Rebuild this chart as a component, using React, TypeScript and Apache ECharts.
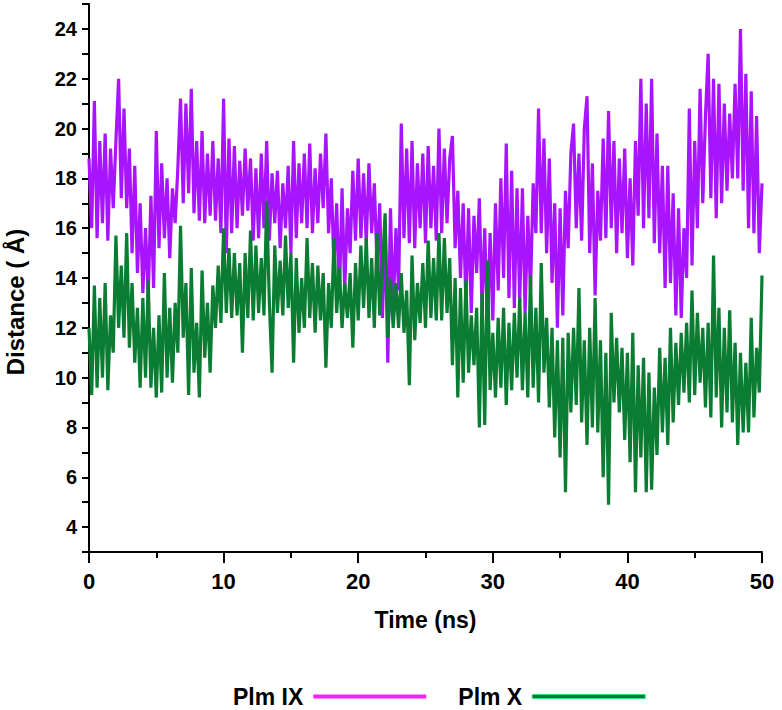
import React, { useEffect, useRef } from "react";
import * as echarts from "echarts";

// Sampling step of the trajectory (ns)
const TIME_STEP_NS = 0.2;

// Plm IX distance (Å), one value every 0.2 ns from 0 to 50 ns
const PLM_IX = [
  18.8, 16.0, 21.1, 15.6, 19.5,
  16.2, 19.8, 15.5, 19.2, 16.8,
  19.5, 22.0, 17.2, 20.8, 16.8,
  19.2, 15.0, 18.5, 14.2, 17.0,
  13.4, 16.0, 13.2, 17.3, 13.6,
  19.9, 15.2, 18.6, 15.6, 18.0,
  14.8, 17.6, 16.2, 18.4, 21.2,
  17.0, 21.0, 17.4, 21.6, 16.6,
  19.5, 16.3, 19.9, 16.2, 19.0,
  16.5, 19.5, 16.3, 18.8, 15.8,
  21.2, 15.0, 19.6, 15.8, 19.3,
  16.0, 18.7, 16.5, 19.2, 16.7,
  18.8, 15.5, 18.4, 15.6, 19.0,
  16.0, 19.5, 15.5, 18.2, 16.2,
  18.3, 15.2, 17.8, 16.0, 18.5,
  15.0, 19.5, 15.6, 18.6, 16.2,
  19.0, 16.0, 19.4, 15.8, 18.4,
  16.2, 19.0, 16.8, 19.8, 15.8,
  18.0, 14.4, 17.0, 13.2, 17.6,
  13.5, 16.8, 15.0, 18.3, 15.5,
  18.8, 15.6, 18.2, 15.4, 18.6,
  15.8, 17.8, 14.5, 17.0, 12.4,
  16.2, 10.6, 16.8, 12.6, 16.0,
  13.5, 20.2, 15.6, 19.2, 15.4,
  19.5, 15.2, 18.6, 16.0, 19.0,
  15.4, 19.3, 16.0, 18.5, 15.5,
  20.0, 15.8, 19.2, 16.2, 18.8,
  19.7, 15.2, 17.5, 14.0, 17.0,
  13.0, 16.8, 12.6, 16.5, 14.2,
  17.2, 12.8, 16.0, 12.1, 15.8,
  12.3, 17.0, 13.5, 18.0, 14.0,
  19.4, 13.2, 18.3, 12.8, 17.6,
  13.0, 17.6, 12.6, 16.5, 13.5,
  17.8, 15.8, 20.8, 15.8, 19.6,
  15.0, 18.8, 13.8, 17.0, 12.0,
  16.8, 12.5, 17.5, 15.2, 19.0,
  20.2, 16.0, 19.0, 15.5, 20.0,
  21.3, 15.0, 18.6, 13.3, 17.5,
  15.5, 19.6, 15.6, 20.7, 16.0,
  19.5, 15.0, 18.8, 15.8, 19.2,
  14.8, 18.0, 14.5, 19.5, 16.5,
  22.0, 16.0, 21.0, 16.4, 22.0,
  15.4, 19.8, 15.0, 18.5, 13.6,
  18.5, 13.8, 17.4, 12.5, 16.8,
  12.4, 16.0, 14.0, 20.8, 14.5,
  19.5, 16.0, 21.6, 17.0, 20.5,
  23.0, 17.2, 22.0, 16.4, 21.8,
  17.0, 21.0, 17.5, 20.6, 18.0,
  21.8, 18.0, 24.0, 17.5, 22.2,
  16.0, 21.5, 15.8, 20.5, 15.0,
  17.8,
];

// Plm X distance (Å), one value every 0.2 ns from 0 to 50 ns
const PLM_X = [
  12.0, 9.3, 13.7, 9.6, 13.2,
  10.0, 13.8, 9.5, 12.5, 11.0,
  15.7, 12.0, 14.5, 11.6, 15.8,
  11.2, 13.8, 10.6, 12.8, 9.6,
  13.2, 10.0, 13.9, 9.6, 12.0,
  9.2, 12.5, 9.4, 14.2, 10.0,
  12.8, 9.8, 13.0, 11.0, 16.1,
  11.6, 13.8, 9.3, 14.4, 10.2,
  12.2, 9.2, 14.3, 10.8, 13.0,
  10.2, 13.7, 12.0, 14.5, 12.2,
  16.0, 12.6, 15.2, 12.4, 15.0,
  12.5, 14.6, 11.0, 15.0, 12.4,
  15.9, 12.3, 15.3, 12.6, 14.8,
  12.5, 17.1, 13.0, 10.2, 15.3,
  12.6, 14.7, 12.5, 15.7, 12.8,
  15.0, 10.6, 14.8, 11.8, 14.0,
  12.0, 15.6, 12.4, 14.6, 11.8,
  14.5, 12.3, 14.2, 10.4, 13.8,
  12.0, 15.6, 12.6, 14.4, 12.0,
  13.8, 12.4, 14.2, 11.2, 14.6,
  12.3, 15.3, 12.8, 15.6, 12.4,
  14.8, 12.0, 15.8, 12.5, 14.5,
  16.6, 11.6, 14.0, 12.0, 13.8,
  12.0, 14.2, 11.8, 13.5, 9.7,
  14.9, 11.5, 13.8, 12.2, 14.6,
  12.0, 15.5, 12.4, 14.8, 12.3,
  15.8, 12.3, 15.6, 12.6, 14.8,
  10.5, 14.0, 9.2, 13.6, 9.8,
  13.9, 10.2, 12.5, 10.5, 12.8,
  8.0, 13.4, 8.1, 14.7, 9.5,
  11.8, 9.2, 12.4, 9.6, 12.8,
  8.9, 12.2, 9.5, 12.6, 10.0,
  13.2, 9.5, 12.6, 9.2, 14.1,
  9.6, 12.8, 9.0, 14.6, 10.2,
  12.4, 8.8, 12.0, 7.6, 11.5,
  6.8, 11.6, 5.4, 11.8, 8.6,
  12.0, 8.9, 13.6, 8.2, 11.5,
  7.3, 12.0, 8.0, 13.2, 7.8,
  11.5, 6.0, 11.0, 4.9, 12.6,
  9.0, 11.6, 8.6, 11.2, 7.5,
  11.0, 6.6, 11.8, 5.4, 10.5,
  6.8, 10.8, 5.4, 10.2, 5.5,
  9.6, 6.9, 11.2, 7.8, 10.8,
  7.3, 12.0, 8.2, 11.4, 8.9,
  11.8, 9.4, 12.2, 9.0, 13.5,
  9.3, 12.6, 9.8, 12.0, 8.8,
  12.2, 8.4, 14.9, 9.2, 12.8,
  8.0, 12.0, 8.6, 12.7, 8.2,
  11.4, 7.3, 11.0, 7.8, 10.6,
  7.8, 12.4, 8.4, 11.2, 9.4,
  14.1,
];

const SERIES_NAMES = ["Plm IX", "Plm X"];
const X_TICK_LABELS = [0, 10, 20, 30, 40, 50];
const Y_TICK_LABELS = [4, 6, 8, 10, 12, 14, 16, 18, 20, 22, 24];

const FONT = "'Liberation Sans', Arial, Helvetica, sans-serif";

const toPairs = (vals: number[]) =>
  vals.map((v, i) => [Math.round(i * TIME_STEP_NS * 100) / 100, v]);

export default function App() {
  const ref = useRef<HTMLDivElement>(null);

  useEffect(() => {
    if (!ref.current) return;
    const chart = echarts.init(ref.current, null, { renderer: "svg" });
    const axisColor = "#000";
    chart.setOption({
      animation: false,
      backgroundColor: "#ffffff",
      textStyle: { fontFamily: FONT },
      grid: { left: 89, right: 20, top: 4, bottom: 158, containLabel: false },
      legend: {
        show: true,
        left: 228,
        top: 680,
        align: "right",
        icon: "rect",
        itemWidth: 113,
        itemHeight: 4,
        itemGap: 32,
        textStyle: {
          fontFamily: FONT,
          fontSize: 23,
          fontWeight: "bold",
          color: "#000",
          padding: [0, 5, 0, 0],
        },
        data: [
          { name: SERIES_NAMES[0], itemStyle: { color: "#ff1ff0" } },
          {
            name: SERIES_NAMES[1],
            itemStyle: { color: "#0a7a32", borderColor: "#33e070", borderWidth: 1 },
          },
        ],
      },
      xAxis: {
        type: "value",
        min: 0,
        max: 50,
        interval: 10,
        axisLine: { show: true, onZero: false, lineStyle: { color: axisColor, width: 2 } },
        axisTick: { show: true, length: 11, lineStyle: { color: axisColor, width: 2 } },
        minorTick: { show: true, splitNumber: 2, length: 6, lineStyle: { color: axisColor, width: 2 } },
        splitLine: { show: false },
        minorSplitLine: { show: false },
        axisLabel: {
          margin: 18,
          fontFamily: FONT,
          fontSize: 22,
          fontWeight: "bold",
          color: "#000",
          formatter: (v: number) => (X_TICK_LABELS.includes(v) ? String(v) : ""),
        },
        name: "Time (ns)",
        nameLocation: "middle",
        nameGap: 56,
        nameTextStyle: { fontFamily: FONT, fontSize: 23, fontWeight: "bold", color: "#000" },
      },
      yAxis: {
        type: "value",
        min: 3,
        max: 25,
        interval: 1,
        axisLine: { show: true, onZero: false, lineStyle: { color: axisColor, width: 2 } },
        axisTick: { show: true, length: 7, lineStyle: { color: axisColor, width: 2 } },
        splitLine: { show: false },
        axisLabel: {
          margin: 12,
          fontFamily: FONT,
          fontSize: 20,
          fontWeight: "bold",
          color: "#000",
          formatter: (v: number) => (Y_TICK_LABELS.includes(v) ? String(v) : ""),
        },
      },
      graphic: [
        {
          type: "text",
          x: 15,
          y: 302,
          rotation: Math.PI / 2,
          style: {
            text: "Distance ( Å)",
            fontFamily: FONT,
            fontSize: 24,
            fontWeight: "bold",
            fill: "#000",
            textAlign: "center",
            textVerticalAlign: "middle",
          },
        },
      ],
      series: [
        {
          name: SERIES_NAMES[0],
          type: "line",
          data: toPairs(PLM_IX),
          showSymbol: false,
          symbol: "none",
          lineStyle: { color: "#a914ff", width: 3.2, join: "miter", miterLimit: 3 },
          itemStyle: { color: "#a914ff" },
          z: 2,
        },
        {
          name: SERIES_NAMES[1],
          type: "line",
          data: toPairs(PLM_X),
          showSymbol: false,
          symbol: "none",
          lineStyle: { color: "#0a7d32", width: 3.2, join: "miter", miterLimit: 3 },
          itemStyle: { color: "#0a7d32" },
          z: 3,
        },
      ],
    });
    return () => chart.dispose();
  }, []);

  return (
    <div
      ref={ref}
      style={{ position: "fixed", left: 0, top: 0, width: 782, height: 710, background: "#fff" }}
    />
  );
}
